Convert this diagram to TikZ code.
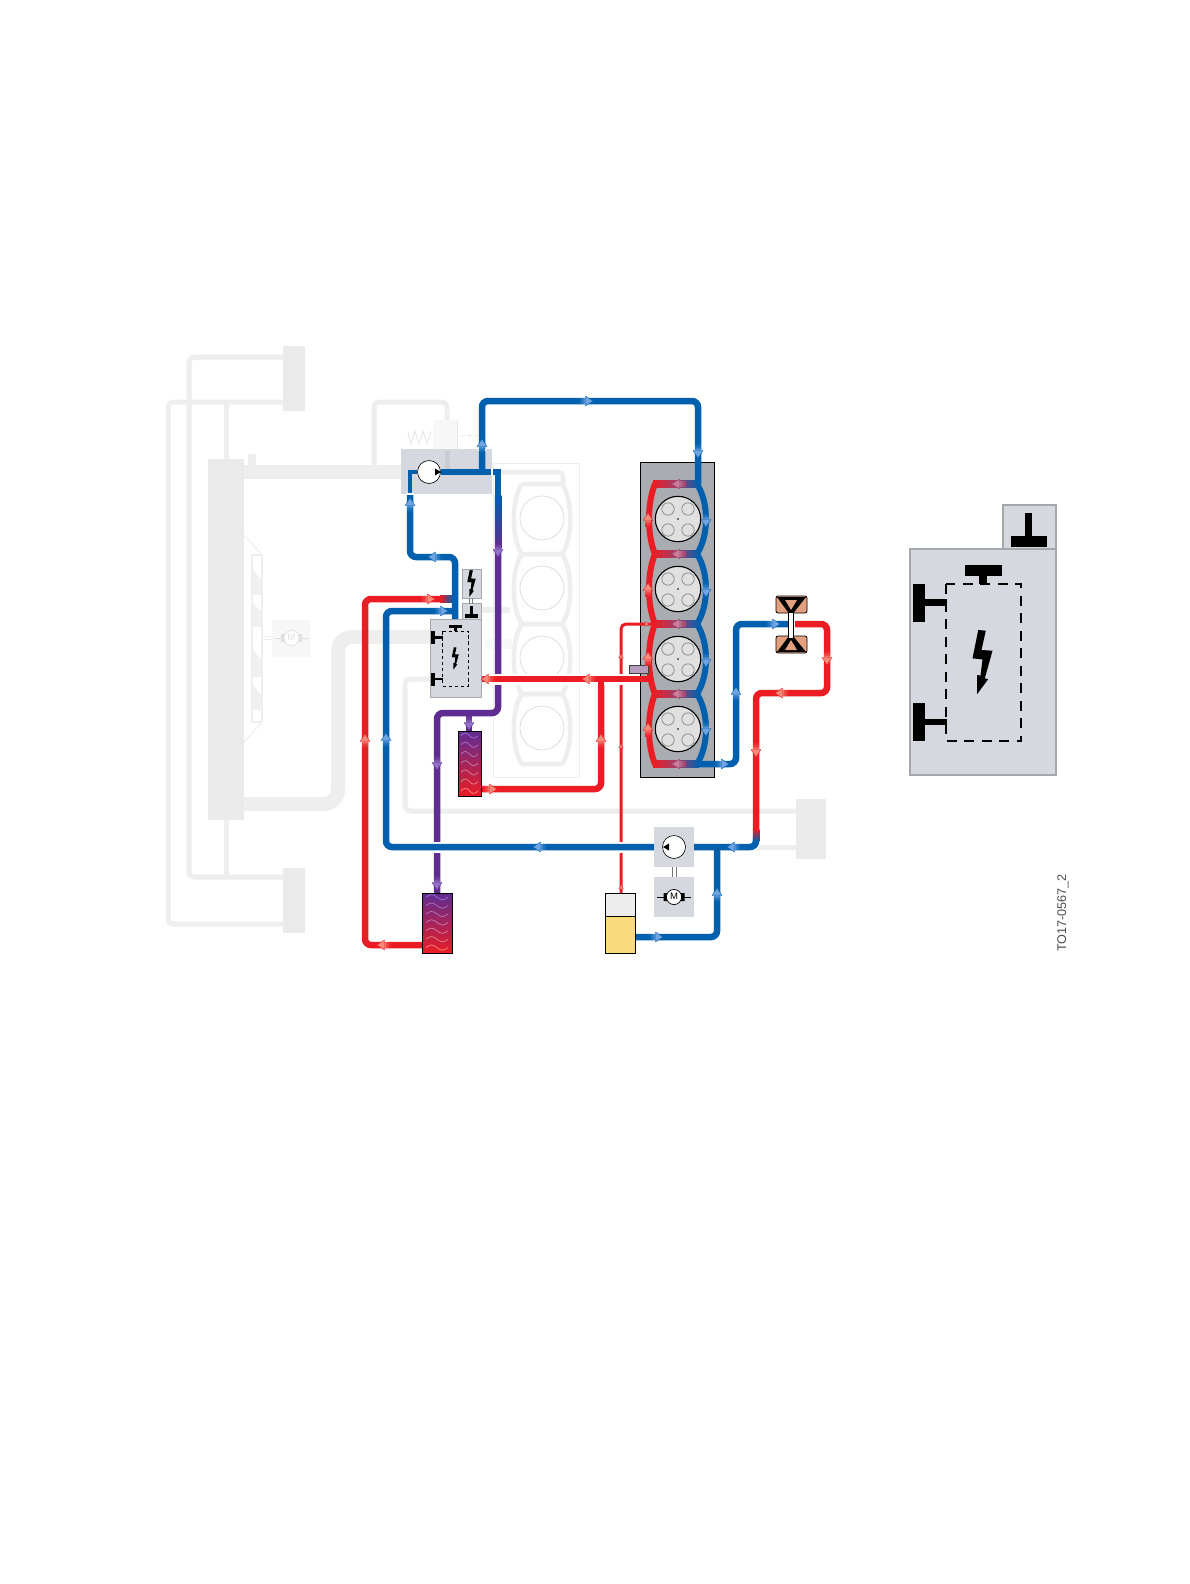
\documentclass[tikz,border=0pt]{standalone}
\usepackage{fontspec}
\setmainfont{Liberation Sans}
\definecolor{pblue}{HTML}{0060AE}
\definecolor{pred}{HTML}{EC1C24}
\definecolor{ppurple}{HTML}{5F2C91}
\definecolor{lblue}{HTML}{6FA3E2}
\definecolor{lred}{HTML}{F58A78}
\definecolor{lpurple}{HTML}{9272C8}
\definecolor{lmix}{HTML}{C87F9A}
\definecolor{mixb}{HTML}{A0406A}
\definecolor{ghost}{HTML}{EEEEEE}
\definecolor{ghostfill}{HTML}{EAEAEA}
\definecolor{boxfill}{HTML}{D5D8DE}
\definecolor{boxline}{HTML}{A4A7AB}
\definecolor{blockfill}{HTML}{A9ACB1}
\definecolor{salmon}{HTML}{E2A07E}
\definecolor{oil}{HTML}{F9DB7C}
\definecolor{wavetop}{HTML}{9A70D8}
\definecolor{wavebot}{HTML}{F28A80}
\definecolor{sensorfill}{HTML}{B89CBE}
\definecolor{pumpband}{HTML}{C9CCD2}
\tikzset{
  x=1pt,y=-1pt,
  greypipe/.style={draw=ghost,line width=5,rounded corners=5,fill=none},
  greythick/.style={draw=ghost,line width=14,rounded corners=14,fill=none},
  bluepipe/.style={draw=pblue,line width=6.5,rounded corners=6,fill=none},
  redpipe/.style={draw=pred,line width=6.5,rounded corners=6,fill=none},
  purplepipe/.style={draw=ppurple,line width=6.5,rounded corners=6,fill=none},
  thinred/.style={draw=pred,line width=3,rounded corners=5,fill=none},
  halo/.style={draw=white,line width=#1,fill=none},
  greyblock/.style={fill=ghostfill,draw=none},
  compbox/.style={fill=boxfill,draw=none},
  framedbox/.style={fill=boxfill,draw=boxline,line width=.7},
  exch/.style={top color=ppurple,bottom color=pred,draw=black,line width=.8},
}
\newcommand\comp[6]{\node[#6,anchor=north west,inner sep=0pt,outer sep=0pt,minimum width={(#4-#2)*1pt},minimum height={(#5-#3)*1pt}] (#1) at (#2,#3) {};}
% flow arrow: tip x, tip y, screen angle, light colour, base colour
\newcommand\flow[5]{\begin{scope}[shift={(#1,#2)},rotate=#3]
  \foreach \k/\p in {0/10,1/30,2/50,3/70,4/90}{\fill[#4!\p!#5] (\k*1.8-14,-3.25) rectangle (\k*1.8-12.1,3.25);}
  \fill[#4,draw=#5,line width=.35,line join=round] (0,0) -- (-7.5,5) -- (-6.5,0) -- (-7.5,-5) -- cycle;
  \fill[#4] (-7.2,-3.2) rectangle (-5,3.2);
  \end{scope}}
\newcommand\smallflow[3]{\begin{scope}[shift={(#1,#2)},rotate=#3]
  \fill[lred,draw=pred,line width=.25] (0,0) -- (-4,2.4) -- (-4,-2.4) -- cycle;
  \end{scope}}
\newcommand\bolt[4]{\begin{scope}[shift={(#1,#2)},scale=#3]
  \fill[#4] (-4.3,-32) -- (3.3,-31.3) -- (-1,-12) -- (10,-11.3) -- (2.3,16.3) -- (5.6,17.3) -- (-5.3,32) -- (-5.3,13) -- (-2,13.6) -- (0,-2.6) -- (-10,-3.6) -- cycle;
  \end{scope}}
% control unit, drawn in the coordinates of the enlarged view
\newcommand\ctrl[7]{\begin{scope}[shift={(#1,#2)},scale=#3,shift={(-910,-505)}]
  \path[fill=boxfill,draw=boxline,line width=#4] (910,549) rectangle (1056,775);
  \path[fill=boxfill,draw=boxline,line width=#4] (1003,505) rectangle (1056,549);
  \draw[black,line width=#5,dash pattern=on #6pt off #7pt] (946,584) rectangle (1021,741);
  \fill (965,565) rectangle (1002,576);
  \fill (979,576) rectangle (987,584);
  \fill (913,584) rectangle (925,622);
  \fill (925,599) rectangle (947,606);
  \fill (913,703) rectangle (925,741);
  \fill (925,719) rectangle (947,725);
  \fill (1011,536) rectangle (1047,547);
  \fill (1025,513) rectangle (1032,536);
  \bolt{982.5}{662}{1}{black}
  \end{scope}}
\newcommand\motor[4]{\begin{scope}[shift={(#1,#2)}]
  \draw[#3,line width=.7] (-17,0) -- (-9,0) (9,0) -- (17,0);
  \fill[#3] (-10.5,-4) rectangle (-7,4) (7,-4) rectangle (10.5,4);
  \draw[#3,fill=white,line width=.7] (0,0) circle (7.6);
  \node[inner sep=0pt,text=#3,font=\fontsize{9.5}{10}\selectfont] (#4) at (0,-.3) {M};
  \end{scope}}
\newcommand\waves[4]{\foreach \r in {0,...,6}{%
  \pgfmathtruncatemacro\pc{100*\r/6}
  \pgfmathsetmacro\wy{#2+(\r+.5)*#4}
  \pgfmathsetmacro\wq{#3/4}
  \draw[wavebot!\pc!wavetop,line width=.7] (#1,\wy) sin ++(\wq,-2.6) cos ++(\wq,2.6) sin ++(\wq,2.6) cos ++(\wq,-2.6);}}
\begin{document}
\begin{tikzpicture}
\useasboundingbox (0,0) rectangle (1190,1584);
\fill[white] (0,0) rectangle (1190,1584);
% ---- ghosted part of the circuit
\comp{ghostblock}{493}{463}{579}{777}{fill=white,draw=ghost,line width=1}
\coordinate (tt1) at (283,402); \coordinate (tb1) at (283,924);
\coordinate (tt2) at (283,357); \coordinate (tb2) at (283,877);
\draw[greypipe] (tt1) -- (168,402) -- (168,924) -- (tb1);
\draw[greypipe] (tt2) -- (189,357) -- (189,877) -- (tb2);
\draw[ghost,line width=5] (226,402) -- (226,460) (226,820) -- (226,877);
\draw[greypipe] (374,472) -- (374,402) -- (447,402) -- (447,425);
\comp{tankTop}{283}{346}{305}{411}{greyblock}
\comp{tankBot}{283}{868}{305}{933}{greyblock}
\draw[ghost,line width=14] (244,472) -- (402,472);
\fill[ghost] (248,454) rectangle (256,470);
\draw[greythick] (244,804) -- (338,804) -- (338,637) -- (432,637);
\comp{radiator}{208}{459}{244}{820}{greyblock}
% fan
\draw[ghost,line width=1] (244,535) -- (262,555) (244,742) -- (262,722);
\comp{fan}{252}{555}{262}{722}{fill=white,draw=ghost,line width=1.5}
\fill[black!6] (253,570) -- (261,580) -- (261,595) -- (253,595) -- cycle
  (253,603) -- (261,612) -- (261,627) -- (253,627) -- cycle
  (253,650) -- (261,660) -- (261,677) -- (253,677) -- cycle
  (253,685) -- (261,695) -- (261,710) -- (253,710) -- cycle;
\comp{fanmotorbox}{272}{620}{310}{657}{fill=black!3}
\draw[ghost,line width=1] (262,636.5) -- (272,636.5) (262,639.5) -- (272,639.5);
\motor{291.5}{638}{black!12}{ghostM}
% thermostat
\fill[black!3] (433,420) rectangle (457,450);
\draw[black!10,line width=.8] (408,432) -- (411,444) -- (415,431) -- (419,444) -- (423,431) -- (427,444) -- (431,431);
\draw[black!9,line width=.8] (457,420) -- (457,450);
\draw[black!9,line width=.8,dash pattern=on 4pt off 3pt] (461,435) -- (478,435);
% lower ghost lines
\draw[greypipe] (430,679) -- (405,679) -- (405,811) -- (796,811);
\draw[ghost,line width=5] (756,847) -- (796,847);
\comp{rearcooler}{796}{799}{826}{859}{greyblock}
% ghost engine
\draw[greypipe] (498,472) -- (563,472) -- (563,484);
\foreach \i in {0,1,2,3}{
  \pgfmathsetmacro\ya{484+70*\i}
  \pgfmathsetmacro\yb{554+70*\i}
  \draw[ghost,line width=4.5,line join=round] (522,\ya) -- (562,\ya) .. controls (573,\ya+15) and (573,\yb-15) .. (562,\yb) -- (522,\yb) .. controls (511,\yb-15) and (511,\ya+15) .. (522,\ya);
  \draw[black!13,line width=.8,fill=white] (542,\ya+34) circle (22);
}
\draw[ghost,line width=6] (480,610) -- (510,610);
\fill[black!3] (485,639) rectangle (512,649);
% ---- pump housing
\comp{pumpbox}{401}{449}{492}{494}{compbox}
\fill[pumpband] (444.5,451) rectangle (449.5,470);
% ---- engine block
\comp{block}{640}{462}{714}{777}{fill=blockfill,draw=black,line width=.8}
\coordinate (inlet) at (698,484);
\foreach \i in {0,1,2,3}{
  \pgfmathsetmacro\ya{484+70*\i}
  \pgfmathsetmacro\yb{554+70*\i}
  \pgfmathsetmacro\yc{519+70*\i}
  \draw[pred,line width=6,line cap=round] (655,\ya) .. controls (647,\ya+19) and (647,\yb-19) .. (655,\yb);
  \draw[pblue,line width=6,line cap=round] (697,\ya) .. controls (709,\ya+19) and (709,\yb-19) .. (697,\yb);
  \draw[black,line width=1.1,fill=black!12] (678,\yc) circle (22.7);
  \foreach \dx/\dy in {-10/-10,10/-10,-10/11,10/11}{\draw[black!48,line width=.7] (678+\dx,\yc+\dy) circle (6.2);}
  \fill (678,\yc) circle (.9);
}
\foreach \i in {0,1,2,3,4}{
  \pgfmathsetmacro\ya{484+70*\i}
  \shade[left color=pred,right color=pblue,middle color=mixb] (653,\ya-3.25) rectangle (699,\ya+3.25);
}
% ---- pipes
\coordinate (pumpL) at (417,472);
\coordinate (ctrlTop) at (455,619);
\coordinate (pumpR) at (441,472);
\coordinate (outT) at (482,472);
\draw[bluepipe] (outT) -- (482,401) -- (698,401) -- (inlet);
\draw[bluepipe] (ctrlTop) -- (455,557) -- (410,557) -- (410,494);
\draw[pblue,line width=4.5] (410,494) -- (410,472) -- (pumpL);
\draw[white,line width=1.5] (406,494) -- (414,494);
\draw[pblue,line width=6.5] (pumpR) -- (501,472);
\draw[white,line width=1.5] (478,450) -- (486,450);
\draw[white,line width=1.5] (492,468) -- (492,476);
% down pipe: blue to purple
\fill[pblue] (494.75,472) rectangle (501.25,495);
\shade[top color=pblue,bottom color=ppurple] (494.75,495) rectangle (501.25,548);
\coordinate (exAtop) at (469,731);
\coordinate (exBtop) at (437,893);
\draw[purplepipe] (498,548) -- (498,713) -- (437,713) -- (exBtop);
\draw[purplepipe,rounded corners=0] (469,713) -- (exAtop);
% big red return
\coordinate (exBout) at (422,945);
\coordinate (exAout) at (481,789);
\draw[redpipe] (exBout) -- (365,945) -- (365,599) -- (441,599);
\shade[left color=pred,right color=pblue] (440,595.75) rectangle (453,602.25);
% thin line from the tank
\coordinate (tankTopPt) at (621,893);
\coordinate (thinEnd) at (655,624);
\draw[thinred] (tankTopPt) -- (621,624) -- (thinEnd);
% heater branch
\coordinate (tee) at (601,679);
\draw[redpipe] (tee) -- (601,789) -- (exAout);
% thick red with halo
\coordinate (ctrlR) at (481,679);
\coordinate (cylL) at (648,679);
\draw[halo=11] (ctrlR) -- (640,679);
\draw[pred,line width=6.5] (ctrlR) -- (cylL);
\draw[pred,line width=6.5] (tee) -- (601,690);
% engine outlet
\coordinate (engOut) at (697,764);
\coordinate (thrIn) at (790,624);
\draw[bluepipe] (engOut) -- (736,764) -- (736,624) -- (thrIn);
% main blue line
\coordinate (pumpBR) at (694,847);
\coordinate (pumpBL) at (654,847);
\coordinate (ctrlLeft) at (455,611);
\coordinate (redjoin) at (756,836);
\draw[halo=11] (pumpBL) -- (390,847);
\draw[bluepipe] (redjoin) -- (756,847) -- (pumpBR);
\draw[bluepipe] (pumpBL) -- (386,847) -- (386,611) -- (ctrlLeft);
\coordinate (tankOut) at (635,937);
\draw[bluepipe] (tankOut) -- (717,937) -- (717,847);
% throttle outlet
\coordinate (thrOut) at (795,624);
\draw[redpipe] (thrOut) -- (827,624) -- (827,693) -- (756,693) -- (756,830);
\shade[top color=pred,bottom color=pblue] (752.75,829) rectangle (759.25,841);
% ---- components
\comp{exA}{458}{731}{481}{796}{exch}
\waves{461}{731}{17}{9.2}
\comp{exB}{422}{893}{452}{953}{exch}
\waves{426}{893}{22}{8.4}
% tank
\comp{oilTop}{605}{893}{635}{916}{fill=black!7,draw=black,line width=.8}
\comp{oilBot}{605}{916}{635}{953}{fill=oil,draw=black,line width=.8}
\comp{sensor}{629}{665}{648}{673}{fill=sensorfill,draw=black!75,line width=.7}
% pumps
\node[draw=black,fill=white,line width=.6,circle,minimum size=23pt,inner sep=0pt] (pumpT) at (429,472) {};
\fill (441,472) -- (435,468.5) -- (435,475.5) -- cycle;
\comp{pumpBbox}{654}{827}{694}{867}{compbox}
\comp{motorBbox}{654}{877}{694}{917}{compbox}
\node[draw=black,fill=white,line width=.6,circle,minimum size=23pt,inner sep=0pt] (pumpB) at (674,847) {};
\fill (663,847) -- (669,843.5) -- (669,850.5) -- cycle;
\draw[black!55,line width=.8] (672,867) -- (672,877) (676,867) -- (676,877);
\motor{674}{897}{black}{motorM}
% small control unit with its bolt box
\ctrl{430}{603.6}{.349}{.7}{.8}{3.5}{2.6}
\comp{boltbox}{462}{569}{481}{598}{framedbox}
\bolt{471.5}{583.5}{.42}{black}
\draw[black!50,line width=.5] (469.5,598) -- (469.5,604) (472.5,598) -- (472.5,604);
% enlarged control unit
\ctrl{910}{505}{1}{2.6}{2.2}{10}{7.5}
% throttle
\coordinate (thr) at (791,625);
\fill[salmon,draw=black,line width=.8,rounded corners=2] (776,596) rectangle (807,613);
\fill[salmon,draw=black,line width=.8,rounded corners=2] (776,636) rectangle (807,653);
\fill (777,597) -- (806,597) -- (793,613.5) -- (789,613.5) -- cycle;
\fill[salmon] (785,600) -- (797,600) -- (791,610) -- cycle;
\fill (777,652) -- (806,652) -- (793,636) -- (789,636) -- cycle;
\fill[salmon] (785,650) -- (797,650) -- (791,640) -- cycle;
\draw[black,line width=.9,fill=white] (788.3,612) rectangle (793.7,638);
% ---- flow arrows
\flow{593}{401}{0}{lblue}{pblue}
\flow{482}{439}{90}{lblue}{pblue}
\flow{698}{458}{270}{lblue}{pblue}
\flow{410}{498}{90}{lblue}{pblue}
\flow{428}{557}{180}{lblue}{pblue}
\flow{448}{611}{0}{lblue}{pblue}
\flow{533}{847}{180}{lblue}{pblue}
\flow{386}{733}{90}{lblue}{pblue}
\flow{727}{847}{180}{lblue}{pblue}
\flow{717}{888}{90}{lblue}{pblue}
\flow{663}{937}{0}{lblue}{pblue}
\flow{780}{624}{0}{lblue}{pblue}
\flow{736}{687}{90}{lblue}{pblue}
\flow{729}{764}{0}{lblue}{pblue}
\flow{435}{599}{0}{lred}{pred}
\flow{481}{679}{180}{lred}{pred}
\flow{582}{679}{180}{lred}{pred}
\flow{601}{734}{90}{lred}{pred}
\flow{497}{789}{0}{lred}{pred}
\flow{377}{945}{180}{lred}{pred}
\flow{365}{734}{90}{lred}{pred}
\flow{756}{757}{270}{lred}{pred}
\flow{775}{693}{180}{lred}{pred}
\flow{827}{665}{270}{lred}{pred}
\flow{498}{557}{270}{lpurple}{ppurple}
\flow{469}{730}{270}{lpurple}{ppurple}
\flow{437}{770}{270}{lpurple}{ppurple}
\flow{437}{890}{270}{lpurple}{ppurple}
\foreach \yy in {513,583,652,723}{\flow{648}{\yy}{90}{lred}{pred}}
\foreach \yy in {527,597,667,736}{\flow{706}{\yy}{270}{lblue}{pblue}}
\foreach \yy in {484,554,624,694,764}{\flow{672}{\yy}{180}{lmix}{mixb}}
\smallflow{621}{654}{90}
\smallflow{621}{744}{90}
\smallflow{621}{885}{90}
\smallflow{649}{624}{0}
% ---- label
\node[rotate=90,text=black!70,font=\fontsize{12.6}{14}\selectfont,inner sep=0pt] (code) at (1063,913) {TO17-0567\_2};
\end{tikzpicture}
\end{document}
